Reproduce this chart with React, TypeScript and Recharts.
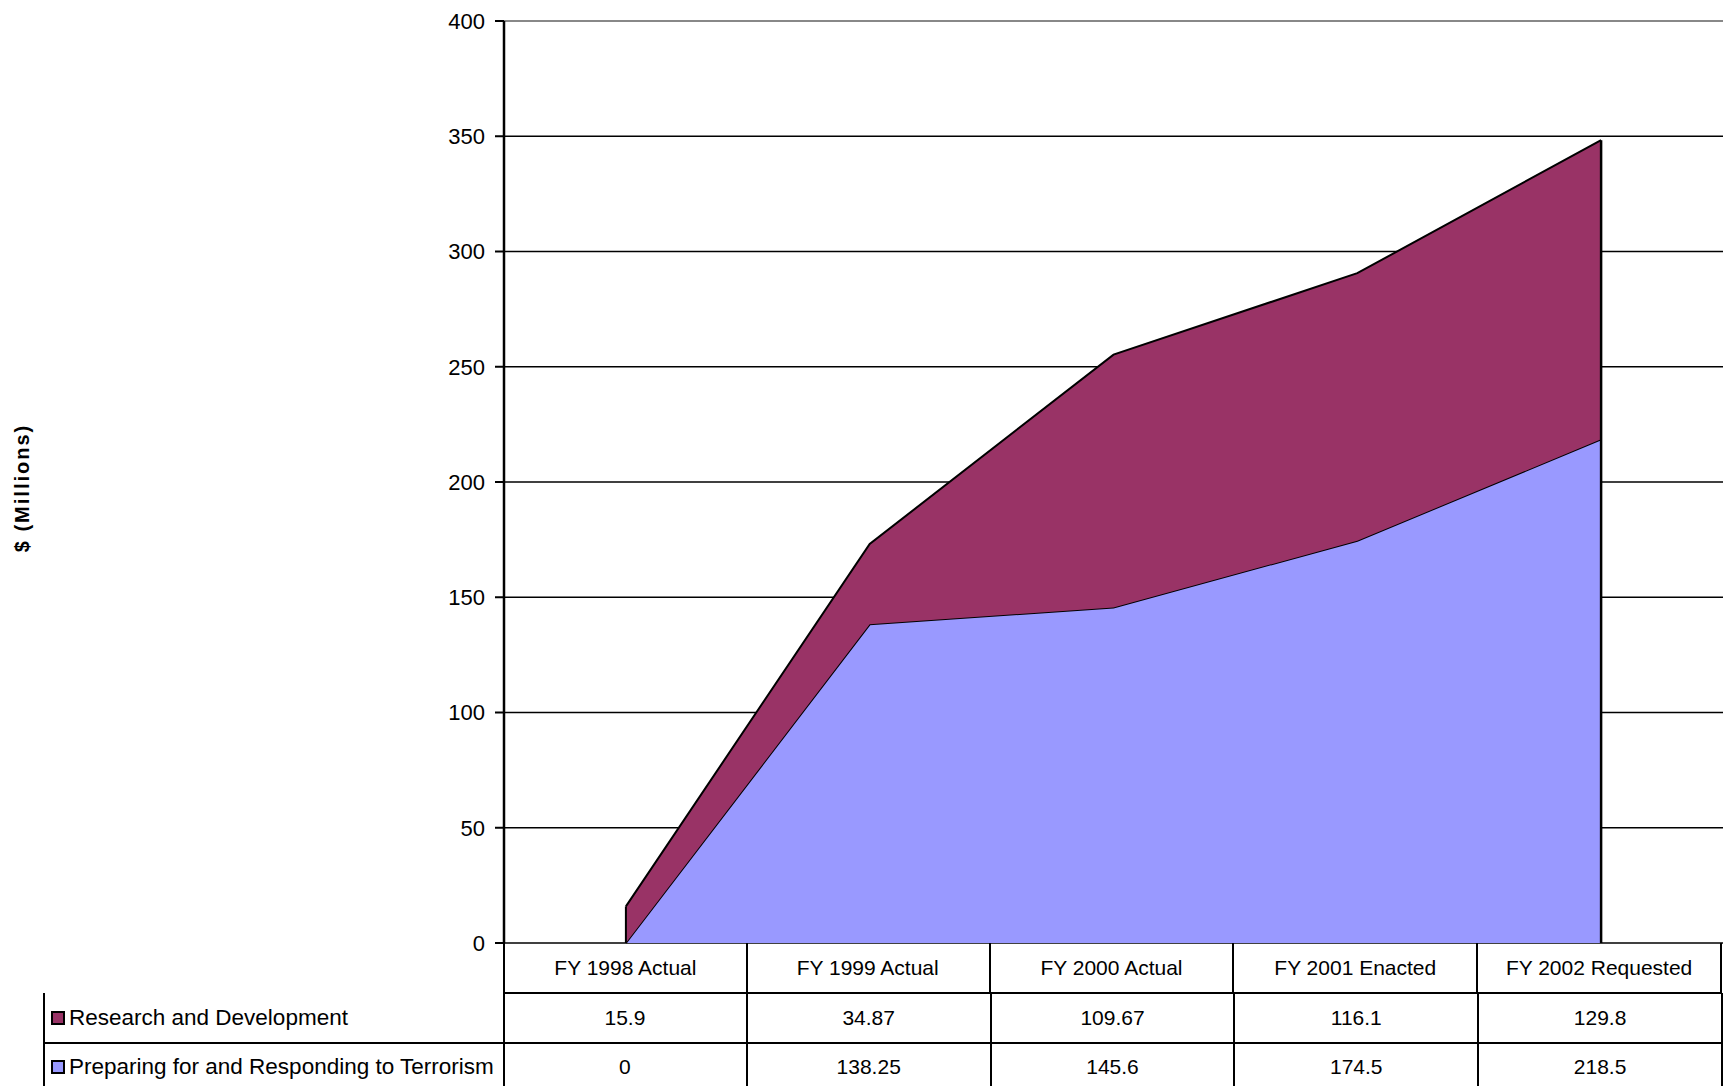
import React from "react";
import { AreaChart, Area, XAxis, YAxis, CartesianGrid, ReferenceLine } from "recharts";

const categories = ["FY 1998 Actual", "FY 1999 Actual", "FY 2000 Actual", "FY 2001 Enacted", "FY 2002 Requested"];
const researchDev = [15.9, 34.87, 109.67, 116.1, 129.8];
const preparing = [0, 138.25, 145.6, 174.5, 218.5];
const yTicks = [0, 50, 100, 150, 200, 250, 300, 350, 400];
const seriesNames = ["Research and Development", "Preparing for and Responding to Terrorism"];

const data = categories.map((c, i) => ({ name: c, rd: researchDev[i], prep: preparing[i] }));

const W = 1726;
const H = 1086;
const PLOT_LEFT = 504;
const PLOT_RIGHT = 1723;
const PLOT_TOP = 21;
const PLOT_BOTTOM = 943;
const COL_W = (PLOT_RIGHT - PLOT_LEFT) / categories.length;
const FONT = "'Liberation Sans Narrow', 'Arial Narrow', 'Liberation Sans', Arial, sans-serif";
const RD_COLOR = "#993366";
const PREP_COLOR = "#9999FF";

export default function App() {
  const first = categories[0];
  const last = categories[categories.length - 1];
  const rowTop = [PLOT_BOTTOM, PLOT_BOTTOM + 50, PLOT_BOTTOM + 100];
  const rowH = [51, 51, 50];
  const cell = (
    left: number,
    top: number,
    w: number,
    h: number,
    content: React.ReactNode,
    align: string,
    key: string,
    leftBorder = true,
    fontSize = 21
  ) => (
    <div
      key={key}
      style={{
        position: "absolute",
        left,
        top,
        width: w,
        height: h,
        boxSizing: "border-box",
        borderLeft: leftBorder ? "2px solid #000" : "none",
        borderRight: "2px solid #000",
        borderBottom: "2px solid #000",
        display: "flex",
        alignItems: "center",
        justifyContent: align,
        fontFamily: FONT,
        fontSize,
        color: "#000",
        whiteSpace: "nowrap",
        overflow: "hidden",
      }}
    >
      {content}
    </div>
  );
  const marker = (color: string) => (
    <span
      style={{
        display: "inline-block",
        width: 10,
        height: 10,
        border: "2px solid #000",
        background: color,
        marginLeft: 6,
        marginRight: 4,
      }}
    />
  );
  return (
    <div style={{ position: "absolute", left: 0, top: 0, width: W, height: H, overflow: "hidden", background: "#fff" }}>
      <AreaChart width={W} height={H} data={data} margin={{ top: PLOT_TOP, right: W - PLOT_RIGHT, bottom: H - PLOT_BOTTOM, left: 0 }}>
        <CartesianGrid horizontal vertical={false} stroke="#000" strokeWidth={1.5} />
        <XAxis
          dataKey="name"
          padding={{ left: COL_W / 2, right: COL_W / 2 }}
          tick={false}
          tickLine={false}
          height={0}
          axisLine={{ stroke: "#000", strokeWidth: 2 }}
        />
        <YAxis
          width={PLOT_LEFT}
          domain={[0, 400]}
          ticks={yTicks}
          interval={0}
          tickSize={9}
          tickMargin={10}
          axisLine={{ stroke: "#000", strokeWidth: 2.5 }}
          tickLine={{ stroke: "#000", strokeWidth: 2 }}
          tick={{ fill: "#000", fontSize: 22, fontFamily: FONT }}
        />
        <YAxis yAxisId="r" orientation="right" width={0} tick={false} tickLine={false} axisLine={{ stroke: "#888", strokeWidth: 2 }} />
        <Area type="linear" dataKey="prep" stackId="1" fill={PREP_COLOR} fillOpacity={1} stroke="#000" strokeWidth={2} isAnimationActive={false} />
        <Area type="linear" dataKey="rd" stackId="1" fill={RD_COLOR} fillOpacity={1} stroke="#000" strokeWidth={2} isAnimationActive={false} />
        <ReferenceLine y={400} stroke="#888" strokeWidth={2} />
        <ReferenceLine
          segment={[{ x: first, y: 0 }, { x: first, y: researchDev[0] + preparing[0] }]}
          stroke="#000"
          strokeWidth={2}
        />
        <ReferenceLine
          segment={[{ x: last, y: 0 }, { x: last, y: researchDev[researchDev.length - 1] + preparing[preparing.length - 1] }]}
          stroke="#000"
          strokeWidth={2.5}
        />
      </AreaChart>

      <div
        style={{
          position: "absolute",
          left: 22,
          top: 488,
          transform: "translate(-50%, -50%) rotate(-90deg)",
          fontFamily: "'Liberation Sans', Arial, sans-serif",
          fontWeight: "bold",
          fontSize: 20,
          letterSpacing: 2,
          whiteSpace: "nowrap",
          color: "#000",
        }}
      >
        $ (Millions)
      </div>

      {categories.map((c, i) =>
        cell(PLOT_LEFT - 1 + i * COL_W, rowTop[0], COL_W + (i === 0 ? 1 : 0), rowH[0], c, "center", "h" + i, i === 0)
      )}
      {cell(43, rowTop[1], PLOT_LEFT - 43 + 1, rowH[1], <>{marker(RD_COLOR)}{seriesNames[0]}</>, "flex-start", "l1", true, 22.5)}
      {researchDev.map((v, i) => cell(PLOT_LEFT + i * COL_W, rowTop[1], COL_W, rowH[1], String(v), "center", "r" + i, false))}
      {cell(43, rowTop[2], PLOT_LEFT - 43 + 1, rowH[2], <>{marker(PREP_COLOR)}{seriesNames[1]}</>, "flex-start", "l2", true, 22.5)}
      {preparing.map((v, i) => cell(PLOT_LEFT + i * COL_W, rowTop[2], COL_W, rowH[2], String(v), "center", "p" + i, false))}
    </div>
  );
}
